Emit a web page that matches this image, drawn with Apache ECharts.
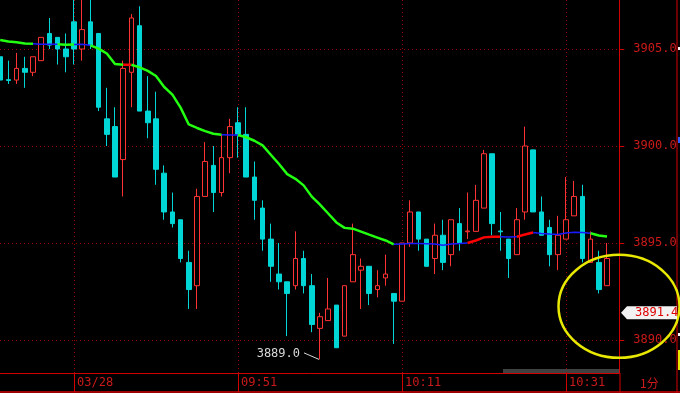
<!DOCTYPE html>
<html><head><meta charset="utf-8">
<script src="https://cdn.jsdelivr.net/npm/echarts@6/dist/echarts.min.js"></script>
<style>html,body{margin:0;padding:0;background:#000;}#c{width:680px;height:393px;}</style>
</head><body><div id="c"></div>
<script>
const categories = [
'14:52','14:53','14:54','14:55','14:56','14:57','14:58','14:59','15:00',
'09:31','09:32','09:33','09:34','09:35','09:36','09:37','09:38','09:39','09:40',
'09:41','09:42','09:43','09:44','09:45','09:46','09:47','09:48','09:49','09:50',
'09:51','09:52','09:53','09:54','09:55','09:56','09:57','09:58','09:59','10:00',
'10:01','10:02','10:03','10:04','10:05','10:06','10:07','10:08','10:09','10:10',
'10:11','10:12','10:13','10:14','10:15','10:16','10:17','10:18','10:19','10:20',
'10:21','10:22','10:23','10:24','10:25','10:26','10:27','10:28','10:29','10:30',
'10:31','10:32','10:33','10:34','10:35','10:36',''];
const opens = [
3904.6,3903.42,3903.4,3904.0,3903.8,3904.4,3905.8,3905.6,3905.0,3906.4,
3905.0,3906.4,3905.8,3901.4,3901.0,3899.3,3903.8,3906.2,3901.8,3901.4,
3898.6,3896.6,3896.2,3894.0,3892.8,3897.4,3899.0,3897.6,3899.4,3901.2,
3900.6,3898.4,3896.8,3895.2,3893.4,3893.0,3892.8,3894.2,3892.8,3890.6,
3891.0,3891.8,3890.2,3893.0,3893.6,3893.8,3892.6,3893.2,3892.4,3892.0,
3895.0,3896.6,3895.2,3894.2,3895.4,3894.4,3896.0,3895.58,3895.6,3896.8,
3899.6,3895.62,3895.2,3894.4,3896.6,3899.8,3896.6,3895.8,3894.4,3895.2,
3896.4,3897.4,3894.0,3894.0,3892.8];
const closes = [
3903.4,3903.38,3904.0,3903.8,3904.6,3905.6,3905.2,3905.0,3904.6,3905.0,
3906.0,3905.2,3902.0,3900.6,3898.4,3904.0,3906.6,3901.8,3901.2,3898.8,
3896.6,3896.0,3894.2,3892.6,3897.4,3899.2,3897.6,3899.4,3901.0,3900.6,
3898.4,3897.2,3895.2,3893.8,3893.0,3892.4,3894.2,3892.8,3890.8,3891.2,
3891.6,3889.6,3892.8,3894.4,3893.8,3892.4,3892.8,3893.4,3892.0,3895.0,
3896.6,3895.2,3893.8,3895.4,3894.0,3896.2,3895.0,3895.62,3897.2,3899.6,
3896.0,3895.58,3894.2,3896.2,3900.0,3896.6,3895.4,3894.4,3895.4,3896.2,
3897.4,3894.2,3895.2,3892.6,3894.2];
const lows = [
3903.2,3903.2,3903.2,3903.0,3903.6,3904.4,3905.0,3904.2,3903.8,3904.2,
3904.4,3905.0,3901.8,3900.0,3898.4,3897.4,3902.0,3901.8,3900.4,3898.0,
3896.2,3895.8,3894.0,3891.6,3891.6,3897.4,3896.6,3897.4,3898.6,3899.4,
3898.4,3896.2,3894.6,3893.0,3892.6,3890.2,3892.6,3892.4,3890.4,3889.0,
3891.0,3889.6,3890.2,3893.0,3891.6,3891.8,3892.2,3892.8,3889.8,3892.0,
3894.8,3894.6,3893.8,3893.4,3893.6,3893.8,3894.6,3895.2,3895.6,3896.8,
3895.4,3894.6,3893.2,3894.4,3896.2,3896.6,3895.4,3893.8,3893.6,3895.2,
3896.4,3894.0,3894.0,3892.4,3892.8];
const highs = [
3904.6,3904.4,3904.8,3904.6,3904.6,3905.6,3906.6,3905.6,3905.8,3907.8,
3907.8,3907.8,3905.8,3903.0,3902.0,3904.4,3906.8,3907.2,3903.6,3902.8,
3899.0,3897.6,3896.2,3894.6,3897.8,3900.2,3900.0,3900.6,3901.4,3902.0,
3902.0,3899.2,3897.2,3896.0,3895.0,3893.0,3895.6,3894.6,3893.4,3891.4,
3893.2,3891.8,3892.8,3896.0,3894.2,3893.8,3893.6,3894.4,3892.4,3895.0,
3897.2,3896.6,3895.2,3896.0,3896.2,3896.2,3896.8,3897.6,3898.0,3899.8,
3899.6,3896.6,3895.2,3896.8,3901.0,3899.8,3897.4,3896.2,3896.4,3898.4,
3898.2,3898.0,3895.6,3894.6,3895.0];
const ma = [
3905.46,3905.39,3905.35,3905.28,3905.27,3905.24,3905.24,3905.24,3905.22,3905.23,
3905.24,3905.19,3905.02,3904.77,3904.23,3904.19,3904.19,3904.05,3903.87,3903.61,
3903.04,3902.65,3901.98,3901.11,3900.93,3900.77,3900.63,3900.58,3900.57,3900.57,
3900.45,3900.27,3900.03,3899.55,3899.07,3898.55,3898.31,3897.97,3897.39,3896.98,
3896.52,3896.06,3895.78,3895.74,3895.59,3895.43,3895.28,3895.13,3894.93,3894.95,
3894.97,3894.97,3894.96,3894.95,3894.89,3894.95,3894.97,3895.00,3895.13,3895.29,
3895.32,3895.32,3895.31,3895.32,3895.44,3895.54,3895.49,3895.46,3895.44,3895.52,
3895.55,3895.54,3895.50,3895.39,3895.34];
// trend of each MA segment: d = falling (green), f = flat (blue), u = rising (red)
const maTrend = 'dddd'+'fff'+'dd'+'ff'+'dddd'+'u'+'ddddddddddd'+'ff'+'ddddddddddddddddddd'+'fffffffff'+'uuuu'+'ff'+'uu'+'fffffff'+'dd';
const yTicks = [3890, 3895, 3900, 3905];
const tickIndex = [9, 29, 49, 69];
const tickText = ['03/28', '09:51', '10:11', '10:31'];
const lastPrice = 3891.4;

const RED = '#ff3333', CYAN = '#00d6d6', AXIS = '#d40000', LBL = '#cc1a1a', DOT = '#a00000';
const FONT = 'DejaVu Sans Mono';
const trendColor = {d: '#22ff11', f: '#1a1aff', u: '#ff0000'};
const trendWidth = {d: 2.5, f: 1.5, u: 2.5};

const chart = echarts.init(document.getElementById('c'), null, {renderer: 'canvas'});
const kData = opens.map((o, i) => [o, closes[i], lows[i], highs[i]]);

const maSeries = [];
let s = 0;
while (s < maTrend.length) {
  let e = s;
  while (e + 1 < maTrend.length && maTrend[e + 1] === maTrend[s]) e++;
  const d = ma.map((v, i) => (i >= s && i <= e + 1) ? v : '-');
  maSeries.push({type: 'line', data: d, symbol: 'none', silent: true, z: 5,
    lineStyle: {color: trendColor[maTrend[s]], width: trendWidth[maTrend[s]]}});
  s = e + 1;
}

const dotStyle = {color: DOT, type: [1, 3], width: 1};
chart.setOption({
  animation: false,
  backgroundColor: '#000',
  grid: {left: -3.9, top: 0, width: 623.2, height: 373, outerBoundsMode: 'none', containLabel: false},
  xAxis: {
    type: 'category', data: categories, boundaryGap: true,
    axisLine: {show: true, lineStyle: {color: AXIS, width: 1}},
    axisTick: {show: true, alignWithLabel: true, length: 19, interval: (i) => tickIndex.includes(i), lineStyle: {color: AXIS}},
    axisLabel: {interval: (i) => tickIndex.includes(i), formatter: (v, i) => tickText[tickIndex.indexOf(i)],
      align: 'left', padding: [0, 0, 0, 3], margin: 4, color: LBL, fontFamily: FONT, fontSize: 12},
    splitLine: {show: false}
  },
  yAxis: {
    type: 'value', position: 'right', min: 3888.299, max: 3907.526,
    axisLine: {show: true, lineStyle: {color: AXIS, width: 1}},
    axisTick: {show: true, length: 5, customValues: yTicks, lineStyle: {color: AXIS}},
    axisLabel: {customValues: yTicks, formatter: (v) => v.toFixed(1), margin: 14, color: LBL, fontFamily: FONT, fontSize: 12},
    splitLine: {show: false}
  },
  series: [{
    type: 'candlestick', data: kData, barWidth: 5, clip: true, z: 3,
    itemStyle: {color: '#000', color0: CYAN, borderColor: RED, borderColor0: CYAN, borderWidth: 1},
    markLine: {silent: true, symbol: 'none', label: {show: false}, z: 1,
      lineStyle: dotStyle,
      data: yTicks.map(v => ({yAxis: v})).concat(tickIndex.map(i => ({xAxis: categories[i]})))}
  }].concat(maSeries)
});

// annotations computed from the data through the chart's scales
let minIdx = 0;
lows.forEach((v, i) => { if (v < lows[minIdx]) minIdx = i; });
const pLow = chart.convertToPixel({gridIndex: 0}, [minIdx, lows[minIdx]]);
const pLast = chart.convertToPixel({gridIndex: 0}, [opens.length - 1, lastPrice]);
const py = pLast[1];
const xr = 620;
chart.setOption({graphic: [
  {type: 'line', shape: {x1: 0, y1: 392, x2: 680, y2: 392}, style: {stroke: AXIS, lineWidth: 1.5}},
  {type: 'line', shape: {x1: xr, y1: 373, x2: xr, y2: 393}, style: {stroke: AXIS, lineWidth: 1}},
  {type: 'line', shape: {x1: 677, y1: 0, x2: 677, y2: 393}, style: {stroke: AXIS, lineWidth: 1}},
  {type: 'rect', shape: {x: 503, y: 369, width: 117, height: 4}, style: {fill: '#404040'}},
  {type: 'rect', shape: {x: 678, y: 350, width: 2, height: 20}, style: {fill: '#e8e800'}},
  {type: 'rect', shape: {x: 678, y: 47, width: 2, height: 3}, style: {fill: '#ffffff'}},
  {type: 'rect', shape: {x: 678, y: 137, width: 2, height: 6}, style: {fill: '#2a5cff'}},
  {type: 'rect', shape: {x: 678, y: 333, width: 2, height: 3}, style: {fill: '#ffffff'}},
  {type: 'text', x: 640, y: 383, style: {text: '1分', fill: LBL, font: '12px "Noto Sans CJK SC"', verticalAlign: 'middle', textVerticalAlign: 'middle'}},
  {type: 'line', shape: {x1: pLow[0] - 1, y1: pLow[1], x2: pLow[0] - 16, y2: pLow[1] - 6.5}, style: {stroke: '#d8d8d8', lineWidth: 1}},
  {type: 'text', x: pLow[0] - 20, y: pLow[1] - 6, style: {text: lows[minIdx].toFixed(1), fill: '#d8d8d8', font: '12px "DejaVu Sans Mono"', align: 'right', textAlign: 'right', verticalAlign: 'middle', textVerticalAlign: 'middle'}},
  {type: 'ellipse', shape: {cx: pLast[0] + 12, cy: py - 6.5, rx: 60.5, ry: 51.5}, style: {fill: 'none', stroke: '#e8e800', lineWidth: 2.5}, z: 50},
  {type: 'polygon', shape: {points: [[621, py], [627, py - 6.5], [677, py - 6.5], [677, py + 6.5], [627, py + 6.5]]}, style: {fill: '#f2f2f2'}, z: 60},
  {type: 'text', x: 635, y: py, style: {text: lastPrice.toFixed(1), fill: '#e00000', font: '12px "DejaVu Sans Mono"', verticalAlign: 'middle', textVerticalAlign: 'middle'}, z: 61}
]});
</script></body></html>
